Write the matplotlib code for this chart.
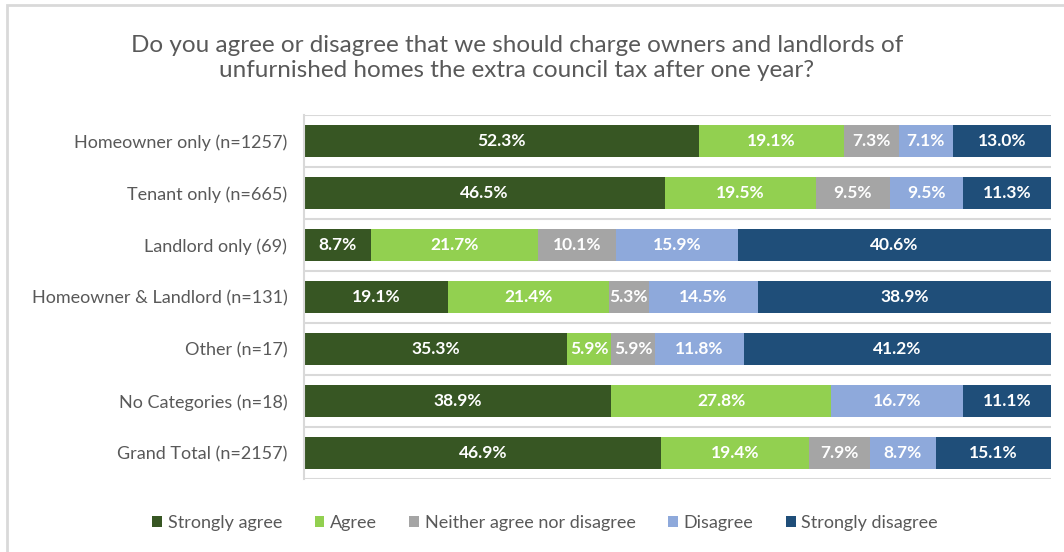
import numpy as np
import matplotlib.pyplot as plt
from matplotlib.patches import Rectangle

plt.rcParams['font.family'] = ['Lato', 'DejaVu Sans']

categories = ["Homeowner only (n=1257)", "Tenant only (n=665)", "Landlord only (69)",
              "Homeowner & Landlord (n=131)", "Other (n=17)", "No Categories (n=18)",
              "Grand Total (n=2157)"]
series_names = ["Strongly agree", "Agree", "Neither agree nor disagree", "Disagree", "Strongly disagree"]
strongly_agree = [52.3, 46.5, 8.7, 19.1, 35.3, 38.9, 46.9]
agree = [19.1, 19.5, 21.7, 21.4, 5.9, 27.8, 19.4]
neither = [7.3, 9.5, 10.1, 5.3, 5.9, 0.0, 7.9]
disagree = [7.1, 9.5, 15.9, 14.5, 11.8, 16.7, 8.7]
strongly_disagree = [13.0, 11.3, 40.6, 38.9, 41.2, 11.1, 15.1]
colors = ["#375623", "#92D050", "#A5A5A5", "#8EA9DB", "#1F4E79"]

title = ("Do you agree or disagree that we should charge owners and landlords of\n"
         "unfurnished homes the extra council tax after one year?")

data = np.array([strongly_agree, agree, neither, disagree, strongly_disagree])
totals = data.sum(axis=0)
shares = data / totals  # 100% stacked

fig = plt.figure(figsize=(10.64, 5.52), dpi=100)
ax = fig.add_axes([304 / 1064, 1 - 479 / 552, 747 / 1064, 364 / 552])

y = np.arange(len(categories))
left = np.zeros(len(categories))
for i, name in enumerate(series_names):
    bars = ax.barh(y, shares[i], left=left, height=0.63, color=colors[i], label=name)
    for j, b in enumerate(bars):
        if data[i, j] > 0:
            ax.text(left[j] + shares[i, j] / 2, y[j], "{:.1f}%".format(data[i, j]),
                    ha="center", va="center", color="white", fontsize=12.5, fontweight="bold")
    left += shares[i]

ax.set_xlim(0, 1)
ax.set_ylim(len(categories) - 0.5, -0.5)
ax.set_yticks(y)
ax.set_yticklabels(categories, fontsize=13, color="#595959")
ax.tick_params(axis="y", length=0, pad=12)
ax.set_xticks([])
for b in np.arange(-0.5, len(categories), 1.0):
    ax.axhline(b, color="#D9D9D9", lw=1.5, zorder=0)
for s in ["top", "right", "bottom"]:
    ax.spines[s].set_visible(False)
ax.spines["left"].set_color("#D9D9D9")
ax.spines["left"].set_linewidth(1.5)

fig.text(517 / 1064, 1 - 58 / 552, title, ha="center", va="center",
         fontsize=17.5, color="#595959", linespacing=1.25)

handles, labels = ax.get_legend_handles_labels()
fig.legend(handles, labels, loc="center", bbox_to_anchor=(545 / 1064, 1 - 523 / 552),
           ncol=5, frameon=False, fontsize=13, handlelength=0.55, handleheight=0.55,
           handletextpad=0.3, columnspacing=1.8, labelcolor="#595959")

fig.patches.append(Rectangle((7 / 1064, -0.1), 1.2, 1 - 5 / 552 + 0.1, transform=fig.transFigure,
                             fill=False, edgecolor="#D9D9D9", lw=2))

fig.savefig("out.png", dpi=100)
